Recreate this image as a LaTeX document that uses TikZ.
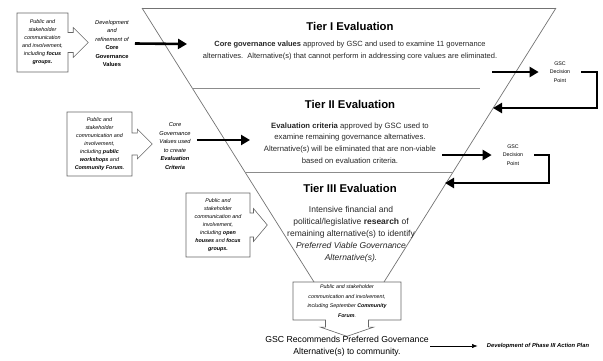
\documentclass[tikz,border=0pt]{standalone}
\usepackage{fontspec}
\setmainfont{Liberation Sans}
\usetikzlibrary{arrows.meta,positioning,shapes.arrows}

\newcommand{\fsz}[2]{\fontsize{#1}{#2}\selectfont}

\begin{document}
\begin{tikzpicture}[x=1pt,y=-1pt,>=Latex,
  funnel/.style={draw=black!55,line width=0.7pt},
  tiersep/.style={draw=black!45,line width=1pt},
  tiertitle/.style={font=\fsz{11.3}{13}\bfseries},
  tierbody/.style={align=center,text=black!85,inner sep=0pt},
  pubbox/.style={arrow box,draw=black!60,line width=0.6pt,align=center,inner sep=0pt,font=\fsz{5.4}{8}\itshape},
  devnote/.style={align=center,font=\fsz{5.7}{8.5}\itshape,inner sep=0pt,inner xsep=6pt},
  gscnote/.style={align=center,font=\fsz{5.3}{8.3},inner sep=0pt,inner xsep=11pt},
  bigarrow/.style={-{Triangle[length=9pt,width=10pt]},line width=2.6pt}]
\useasboundingbox (0,0) rectangle (603,360);

\draw[funnel] (142,8) -- (556,8);
\draw[funnel] (142,8) -- (314,282);
\draw[funnel] (556,8) -- (384,282);
\draw[tiersep] (192,88) -- (480,88);
\draw[tiersep] (245,172) -- (453,172);

\node[tiertitle] (t1) at (350,26) {Tier I Evaluation};
\node[tierbody,font=\fsz{7.5}{12}] (t1body) at (350,51) {\textbf{Core governance values} approved by GSC and used to examine 11 governance\\alternatives.\ \ Alternative(s) that cannot perform in addressing core values are eliminated.};
\node[tiertitle] (t2) at (350,104) {Tier II Evaluation};
\node[tierbody,font=\fsz{7.7}{11.7}] (t2body) at (350,143) {\textbf{Evaluation criteria} approved by GSC used to\\examine remaining governance alternatives.\\Alternative(s) will be eliminated that are non-viable\\based on evaluation criteria.};
\node[tiertitle] (t3) at (350,188) {Tier III Evaluation};
\node[tierbody,font=\fsz{8.5}{12}] (t3body) at (351,234) {Intensive financial and\\political/legislative \textbf{research} of\\remaining alternative(s) to identify\\\textit{Preferred Viable Governance}\\\textit{Alternative(s).}};

\node[pubbox,minimum width=51pt,minimum height=59pt,arrow box arrows={east:20pt},arrow box shaft width=20pt,arrow box head extend=5pt] (pub1) at (42.5,42.5) {Public and\\stakeholder\\communication\\and involvement,\\including \textbf{focus}\\\textbf{groups.}};
\node[devnote] (dev1) at (112,43.5) {Development\\and\\refinement of\\\textbf{\upshape Core}\\\textbf{\upshape Governance}\\\textbf{\upshape Values}};

\node[pubbox,minimum width=65pt,minimum height=64pt,arrow box arrows={east:20pt},arrow box shaft width=22pt,arrow box head extend=4pt] (pub2) at (99.5,144) {Public and\\stakeholder\\communication and\\involvement,\\including \textbf{public}\\\textbf{workshops} and\\\textbf{Community Forum.}};
\node[devnote] (dev2) at (175,146) {Core\\Governance\\Values used\\to create\\\textbf{Evaluation}\\\textbf{Criteria}};

\node[pubbox,minimum width=64pt,minimum height=64pt,arrow box arrows={east:17pt},arrow box shaft width=24pt,arrow box head extend=4.5pt,arrow box tip angle=100] (pub3) at (218,225) {Public and\\stakeholder\\communication and\\involvement,\\including \textbf{open}\\\textbf{houses} and \textbf{focus}\\\textbf{groups.}};

\node[gscnote] (gsc1) at (560,72) {GSC\\Decision\\Point};
\node[gscnote] (gsc2) at (513,155) {GSC\\Decision\\Point};

\coordinate (in1) at (187,44);
\coordinate (in2) at (250,140);
\coordinate (out1) at (492,72);
\coordinate (out2) at (442,155);
\coordinate (bend1) at (597,108);
\coordinate (back1) at (493,108);
\coordinate (bend2) at (549,183);
\coordinate (back2) at (445,183);

\draw[bigarrow] (dev1.east) -- (in1);
\draw[bigarrow] (dev2.east |- in2) -- (in2);
\draw[bigarrow] (out1) -- (gsc1.west);
\draw[bigarrow] (gsc1.east) -| (bend1) -- (back1);
\draw[bigarrow] (out2) -- (gsc2.west);
\draw[bigarrow] (gsc2.east) -| (bend2) -- (back2);

\node[pubbox,font=\fsz{5.3}{9.5}\itshape,minimum width=108pt,minimum height=38pt,arrow box arrows={south:16pt},arrow box shaft width=43pt,arrow box head extend=5pt,arrow box tip angle=142] (pub4) at (347,301) {Public and stakeholder\\communication and involvement,\\including September \textbf{Community}\\\textbf{Forum}.};

\node[font=\fsz{8.7}{12},align=center,inner sep=1.5pt] (rec) at (347,346) {GSC Recommends Preferred Governance\\Alternative(s) to community.};
\node[font=\fsz{5.8}{7}\bfseries\itshape,inner sep=0pt,inner xsep=9pt] (dev3) at (538,346) {Development of Phase III Action Plan};
\draw[->,line width=0.6pt] (rec) -- (dev3);
\end{tikzpicture}
\end{document}
